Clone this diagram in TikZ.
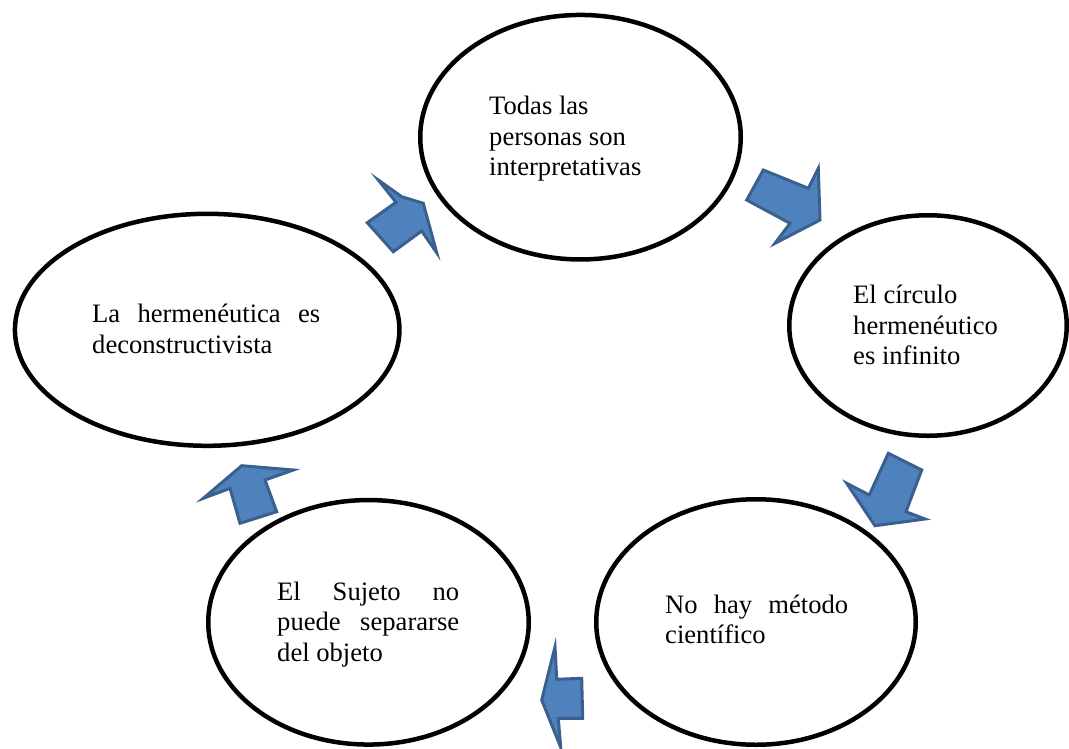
\documentclass[tikz,border=0pt]{standalone}
\usepackage{fontspec}
\setmainfont{Liberation Serif}
\usetikzlibrary{shapes.geometric}
\definecolor{afill}{HTML}{4F81BD}
\definecolor{aline}{HTML}{3A6090}
\newcommand\txtlines[1]{\vtop{\baselineskip=30.7pt\lineskiplimit=-100pt\lineskip=0pt #1}}
\begin{document}
\begin{tikzpicture}[x=1pt,y=-1pt,
  bubble/.style={ellipse, draw=black, line width=4.5pt, fill=white, inner sep=0pt},
  txt/.style={anchor=base west, inner sep=0pt, font=\fontsize{26.6}{30.7}\selectfont},
  blockarrow/.style={fill=afill, draw=aline, line width=3pt, line join=miter}]
\useasboundingbox (0,0) rectangle (1069,748);
% bubbles
\node[bubble, minimum width=320.5pt, minimum height=244.5pt] (e1) at (580.5,137.2) {};
\node[bubble, minimum width=277.5pt, minimum height=220.5pt] (e2) at (928,325.5) {};
\node[bubble, minimum width=319.5pt, minimum height=245.5pt] (e3) at (756,622) {};
\node[bubble, minimum width=320.5pt, minimum height=244.5pt] (e4) at (368.5,622.3) {};
\node[bubble, minimum width=384.5pt, minimum height=232pt] (e5) at (207.2,329.8) {};
% texts
\node[txt] (t1) at (489,114.5) {\txtlines{\hbox{Todas las}\hbox{personas son}\hbox{interpretativas}}};
\node[txt] (t2) at (853,303.5) {\txtlines{\hbox{El círculo}\hbox{hermenéutico}\hbox{es infinito}}};
\node[txt] (t3) at (665,613) {\txtlines{\hbox to 183pt{No\hfill hay\hfill método}\hbox{científico}}};
\node[txt] (t4) at (277,600) {\txtlines{\hbox to 182pt{El\hfill Sujeto\hfill no}\hbox to 182pt{puede\hfill separarse}\hbox{del objeto}}};
\node[txt] (t5) at (92,322.3) {\txtlines{\hbox to 228pt{La\hfill hermenéutica\hfill es}\hbox{deconstructivista}}};
% block arrows
\draw[blockarrow] (378.3,180) -- (401.7,196.7) -- (423.3,203.3) -- (436.7,252.7) -- (421.7,231) -- (393.3,251.7) -- (367.3,222.7) -- (396,202.3) -- cycle;
\draw[blockarrow] (763.3,170) -- (808.3,188.3) -- (818.3,168.3) -- (820,220) -- (775,243.3) -- (790,223.3) -- (746.7,200) -- cycle;
\draw[blockarrow] (888.3,453.3) -- (921.7,470) -- (906,511.7) -- (925,519) -- (875,525.7) -- (846.7,483.3) -- (869.3,495) -- cycle;
\draw[blockarrow] (541.7,700) -- (555,646.7) -- (556.7,679.3) -- (581.7,678.3) -- (582.7,718.3) -- (558.3,718.3) -- (560.7,747.3) -- cycle;
\draw[blockarrow] (203.3,498.3) -- (241.7,465.7) -- (293.3,470) -- (265,480) -- (276.7,511.7) -- (240,523.3) -- (230,488.3) -- cycle;
\end{tikzpicture}
\end{document}
